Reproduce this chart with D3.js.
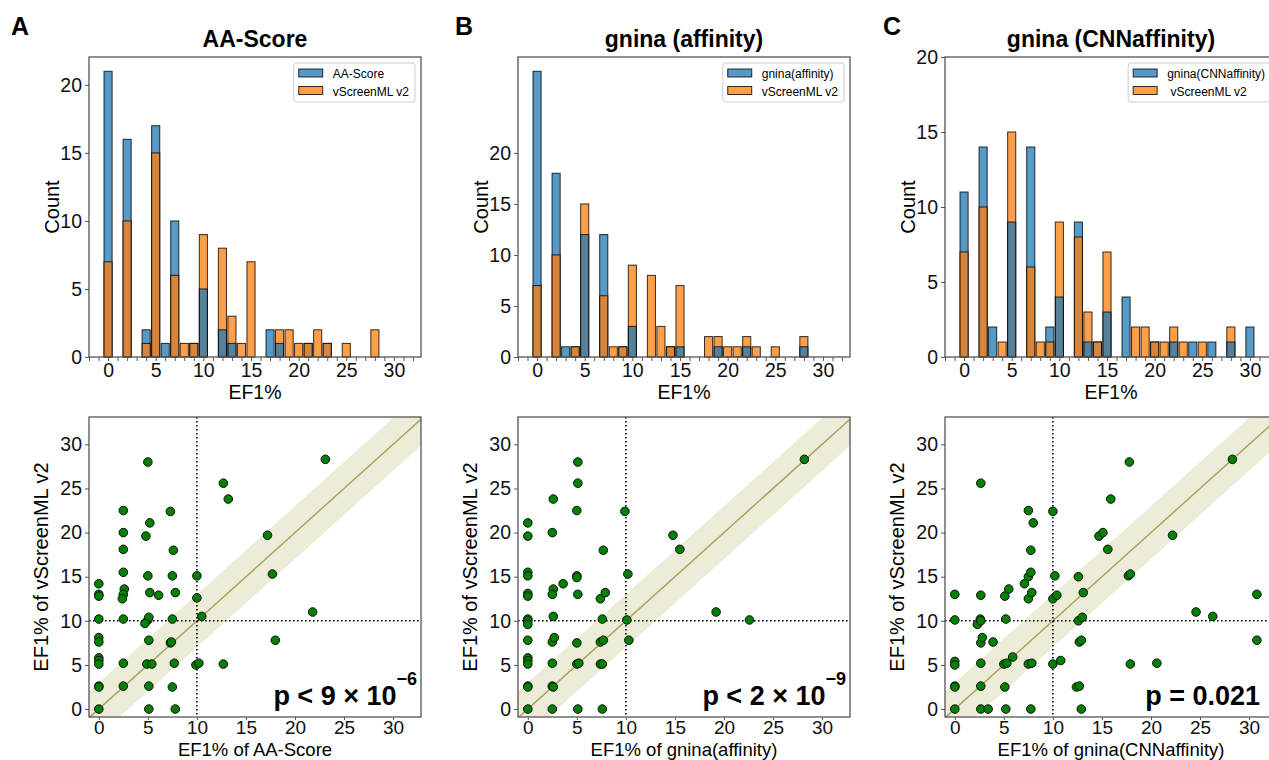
<!DOCTYPE html>
<html>
<head>
<meta charset="utf-8">
<script src="https://cdn.jsdelivr.net/npm/d3@7"></script>
<style>
  body { margin: 0; background: #fff; }
  svg { font-family: "Liberation Sans", Arial, sans-serif; }
</style>
</head>
<body>
<div id="chart"></div>
<script>
// ---- data ----
const panelLetters = ["A", "B", "C"];
const panelTitles = ["AA-Score", "gnina (affinity)", "gnina (CNNaffinity)"];
const methodNames = ["AA-Score", "gnina(affinity)", "gnina(CNNaffinity)"];
const refName = "vScreenML v2";

// histogram counts per EF1% bin (bins 0..30)
const histBins = d3.range(0, 31);
const countsAAScore = [21,0,16,0,2,17,1,10,0,1,5,0,2,1,0,0,0,2,1,0,0,1,0,1,0,0,0,0,0,0,0];
const countsAffinity = [28,0,18,1,1,12,0,12,0,1,3,0,0,0,1,1,0,0,0,1,0,0,1,0,0,0,0,0,1,0,0];
const countsCNN = [11,0,14,2,0,9,0,14,0,2,4,0,9,1,1,3,0,4,0,0,1,0,1,0,1,0,1,0,1,0,2];
const countsVScreen = [7,0,10,0,1,15,0,6,1,1,9,0,8,3,1,7,0,0,2,2,1,1,2,1,0,1,0,0,2,0,0];
const histYMax = [22.05, 29.4, 20];
const histYTicks = [0, 5, 10, 15, 20];

// scatter: EF1% of method (x) vs EF1% of vScreenML v2 (y)
const scatterAx = [5,23.1,12.7,13.2,2.5,7.3,5.2,2.5,4.8,17.2,2.5,7.6,2.5,5,7.5,10,17.7,
  0,0,0,0,0,0,0,0,0,0,0,0,
  2.6,2.5,2.4,5.2,6.1,7.8,10,
  2.5,5,5.1,4.7,7.5,10.5,21.8,
  5.1,7.3,7.4,18,
  2.5,4.9,5.4,7.7,9.9,10.2,12.7,
  2.5,5.1,7.5,5.1,7.8];
const scatterAy = [28,28.3,25.6,23.8,22.5,22.4,21.1,20,19.6,19.7,18.1,18,15.5,15.1,15.1,15.1,15.3,
  14.2,13,12.8,10.2,8.1,7.6,5.8,5.5,5.1,2.6,2.5,0,
  13.6,13,12.5,13.2,12.9,13.2,12.6,
  10.2,10.1,10.4,9.7,10.2,10.5,11,
  7.8,7.5,7.6,7.8,
  5.2,5.1,5.1,5.2,5,5.2,5.1,
  2.6,2.6,2.5,0,0];

const scatterBx = [5.1,28.2,5.1,2.6,5,9.9,0,0,2.5,14.8,15.5,7.7,
  0,0,5,5,3.6,2.6,2.5,5.1,0,0,7.4,7.9,10.2,
  0,0,0,2.6,7.6,10.1,19.2,22.6,
  0,2.5,2.7,5,7.4,7.7,10.3,
  0,0,0,2.5,5,5.2,7.4,7.6,
  0,0,2.5,2.6,
  0,2.5,5.1,7.6];
const scatterBy = [28,28.3,25.6,23.8,22.5,22.4,21.1,19.6,20,19.7,18.1,18,
  15.5,15.1,15.1,14.9,14.2,13.6,13,13,13.1,12.8,12.5,13.2,15.3,
  10.2,10,9.6,10.5,10.2,10.1,11,10.1,
  7.8,7.6,8.1,7.5,7.6,7.8,7.8,
  5.8,5.5,5.1,5.2,5.1,5.2,5.1,5.1,
  2.6,2.5,2.6,2.5,
  0,0,0,0];

const scatterCx = [17.8,28.3,2.65,15.9,7.5,10,8,14.7,15.1,22.2,7.75,15.6,
  7.5,7.75,10.2,12.6,17.7,17.9,7.1,5.5,0,2.65,5.1,7.5,7.85,10,10.4,13.1,30.8,
  0,2.6,2.3,2.65,5.2,12.6,13,24.6,26.3,
  2.65,2.8,3.9,12.7,12.9,30.8,
  0,0,2.65,5,5.3,5.9,7.5,7.85,10,10.8,17.9,20.6,
  0,0,2.65,5.1,12.4,12.7,
  0,2.65,3.4,5.2,7.75,12.9];
const scatterCy = [28,28.3,25.6,23.8,22.5,22.4,21.1,19.6,20,19.7,18,18.1,
  15,15.5,15.1,15,15.1,15.3,14.2,13.6,13,12.9,12.8,12.5,13.2,12.5,12.9,13.2,13,
  10.1,10.2,9.6,10,10.2,10,10.4,11,10.5,
  7.5,8.1,7.6,7.6,7.8,7.8,
  5.4,5,5.2,5.1,5.2,5.9,5.1,5.2,5.1,5.5,5.1,5.2,
  2.6,2.5,2.6,2.5,2.5,2.6,
  0,0,0,0,0,0];

const pLabels = [
  { main: "p < 9 \u00d7 10", sup: "\u22126" },
  { main: "p < 2 \u00d7 10", sup: "\u22129" },
  { main: "p = 0.021", sup: "" }
];
const cutoff = 10;
const bandHalf = 3;

const histCounts = [countsAAScore, countsAffinity, countsCNN];
const scatterX = [scatterAx, scatterBx, scatterCx];
const scatterY = [scatterAy, scatterBy, scatterCy];

// ---- layout ----
const width = 1269, height = 760;
const axLeft = [89, 518, 945];
const axW = 332;
const letterX = [11, 455, 883];
const pRightPad = [4, 4, 17];
const hTop = 57, hBottom = 357, sTop = 417, sBottom = 717;
const blue = "#1f77b4", orange = "#ff7f0e";
const spine = "#555";

const svg = d3.select("#chart").append("svg")
  .attr("width", width)
  .attr("height", height);

function styleAxis(g, size) {
  g.select(".domain").remove();
  g.selectAll(".tick line").attr("stroke", spine).attr("stroke-width", 1);
  g.selectAll(".tick text").attr("fill", "#111").style("font-size", size + "px");
}

panelLetters.forEach((letter, p) => {
  const left = axLeft[p], right = left + axW;
  const cx = left + axW / 2;

  svg.append("text")
    .attr("x", letterX[p]).attr("y", 35)
    .style("font-size", "25px").style("font-weight", "bold")
    .text(letter);

  // ---------- histogram ----------
  const x = d3.scaleLinear().domain([-2, 32.84]).range([left, right]);
  const y = d3.scaleLinear().domain([0, histYMax[p]]).range([hBottom, hTop]);
  const hg = svg.append("g");

  svg.append("text")
    .attr("x", cx).attr("y", 47)
    .attr("text-anchor", "middle")
    .style("font-size", "23px").style("font-weight", "bold")
    .text(panelTitles[p]);

  // taller layer first, shorter one drawn over it
  const bw = 0.85;
  histBins.forEach((b, i) => {
    const layers = [
      { c: histCounts[p][i], color: blue, k: 0 },
      { c: countsVScreen[i], color: orange, k: 1 }
    ].filter(d => d.c > 0)
     .sort((a, b2) => b2.c - a.c || a.k - b2.k);
    layers.forEach(d => {
      hg.append("rect")
        .attr("x", x(b - bw / 2))
        .attr("width", x(bw) - x(0))
        .attr("y", y(d.c))
        .attr("height", y(0) - y(d.c))
        .attr("fill", d.color)
        .attr("fill-opacity", 0.75)
        .attr("stroke", "#000")
        .attr("stroke-opacity", 0.8)
        .attr("stroke-width", 1);
    });
  });

  svg.append("rect")
    .attr("x", left).attr("y", hTop)
    .attr("width", axW).attr("height", hBottom - hTop)
    .attr("fill", "none").attr("stroke", spine).attr("stroke-width", 1.3);

  svg.append("g")
    .attr("transform", `translate(0,${hBottom})`)
    .call(d3.axisBottom(x).tickValues(d3.range(-2, 33)).tickSize(4).tickPadding(2)
      .tickFormat(d => d % 5 === 0 && d >= 0 ? d : ""))
    .call(g => styleAxis(g, 19.5));

  svg.append("g")
    .attr("transform", `translate(${left},0)`)
    .call(d3.axisLeft(y).tickValues(histYTicks).tickSize(4).tickPadding(3))
    .call(g => styleAxis(g, 19.5));

  svg.append("text")
    .attr("x", cx).attr("y", 399)
    .attr("text-anchor", "middle")
    .style("font-size", "19.5px")
    .text("EF1%");

  svg.append("text")
    .attr("transform", `translate(${left - 30},${(hTop + hBottom) / 2}) rotate(-90)`)
    .attr("text-anchor", "middle")
    .style("font-size", "20px")
    .text("Count");

  // legend
  const lg = svg.append("g");
  const lbox = lg.append("rect")
    .attr("y", hTop + 6).attr("height", 39)
    .attr("rx", 3)
    .attr("fill", "#fff").attr("fill-opacity", 0.85)
    .attr("stroke", "#ccc");
  const items = [
    { name: methodNames[p], color: blue },
    { name: (p === 2 ? " " : "") + refName, color: orange }
  ];
  let maxW = 0;
  const rows = items.map((it, i) => {
    const r = lg.append("rect")
      .attr("y", hTop + 12 + i * 17.5).attr("width", 24).attr("height", 8)
      .attr("fill", it.color).attr("fill-opacity", 0.75)
      .attr("stroke", "#000").attr("stroke-opacity", 0.8);
    const t = lg.append("text")
      .attr("y", hTop + 21 + i * 17.5)
      .style("font-size", "12px")
      .style("white-space", "pre")
      .attr("xml:space", "preserve")
      .text(it.name);
    maxW = Math.max(maxW, t.node().getComputedTextLength());
    return [r, t];
  });
  const boxW = 39 + maxW + 6;
  const boxX = right - 6 - boxW;
  lbox.attr("x", boxX).attr("width", boxW);
  rows.forEach(([r, t]) => {
    r.attr("x", boxX + 5);
    t.attr("x", boxX + 39);
  });

  // ---------- scatter ----------
  const sx = d3.scaleLinear().domain([-1, 32.85]).range([left, right]);
  const sy = d3.scaleLinear().domain([-0.9, 33.1]).range([sBottom, sTop]);
  const clipId = "clip" + p;
  svg.append("clipPath").attr("id", clipId)
    .append("rect")
    .attr("x", left).attr("y", sTop)
    .attr("width", axW).attr("height", sBottom - sTop);

  const sg = svg.append("g").attr("clip-path", `url(#${clipId})`);
  const lo = -5, hi = 40;
  sg.append("path")
    .attr("d", d3.line()([
      [sx(lo), sy(lo - bandHalf)], [sx(hi), sy(hi - bandHalf)],
      [sx(hi), sy(hi + bandHalf)], [sx(lo), sy(lo + bandHalf)]
    ]) + "Z")
    .attr("fill", "#808000").attr("fill-opacity", 0.15);
  sg.append("line")
    .attr("x1", sx(lo)).attr("y1", sy(lo))
    .attr("x2", sx(hi)).attr("y2", sy(hi))
    .attr("stroke", "#a8a560").attr("stroke-width", 1.5);

  sg.append("line")
    .attr("x1", sx(cutoff)).attr("x2", sx(cutoff))
    .attr("y1", sTop).attr("y2", sBottom)
    .attr("stroke", "#000").attr("stroke-width", 1.6)
    .attr("stroke-dasharray", "1.6,2.4");
  sg.append("line")
    .attr("x1", left).attr("x2", right)
    .attr("y1", sy(cutoff)).attr("y2", sy(cutoff))
    .attr("stroke", "#000").attr("stroke-width", 1.6)
    .attr("stroke-dasharray", "1.6,2.4");

  const pts = scatterX[p].map((v, i) => ({ x: v, y: scatterY[p][i] }));
  svg.append("g").selectAll("circle")
    .data(pts)
    .enter()
    .append("circle")
    .attr("cx", d => sx(d.x))
    .attr("cy", d => sy(d.y))
    .attr("r", 4.3)
    .attr("fill", "#008000")
    .attr("stroke", "#111")
    .attr("stroke-width", 1);

  svg.append("rect")
    .attr("x", left).attr("y", sTop)
    .attr("width", axW).attr("height", sBottom - sTop)
    .attr("fill", "none").attr("stroke", spine).attr("stroke-width", 1.3);

  svg.append("g")
    .attr("transform", `translate(0,${sBottom})`)
    .call(d3.axisBottom(sx).tickValues(d3.range(0, 31, 5)).tickSize(3).tickPadding(1))
    .call(g => styleAxis(g, 19));

  svg.append("g")
    .attr("transform", `translate(${left},0)`)
    .call(d3.axisLeft(sy).tickValues(d3.range(0, 31, 5)).tickSize(4).tickPadding(3))
    .call(g => styleAxis(g, 19.5));

  svg.append("text")
    .attr("x", cx).attr("y", 755.5)
    .attr("text-anchor", "middle")
    .style("font-size", "18.5px")
    .text("EF1% of " + methodNames[p]);

  svg.append("text")
    .attr("transform", `translate(${left - 41},${(sTop + sBottom) / 2}) rotate(-90)`)
    .attr("text-anchor", "middle")
    .style("font-size", "20px")
    .text("EF1% of " + refName);

  const pt = svg.append("text")
    .attr("x", right - pRightPad[p]).attr("y", 705)
    .attr("text-anchor", "end")
    .style("font-weight", "bold");
  pt.append("tspan").style("font-size", "27px").text(pLabels[p].main);
  if (pLabels[p].sup) {
    pt.append("tspan").attr("dy", -20).style("font-size", "18px").text(pLabels[p].sup);
  }
});
</script>
</body>
</html>
